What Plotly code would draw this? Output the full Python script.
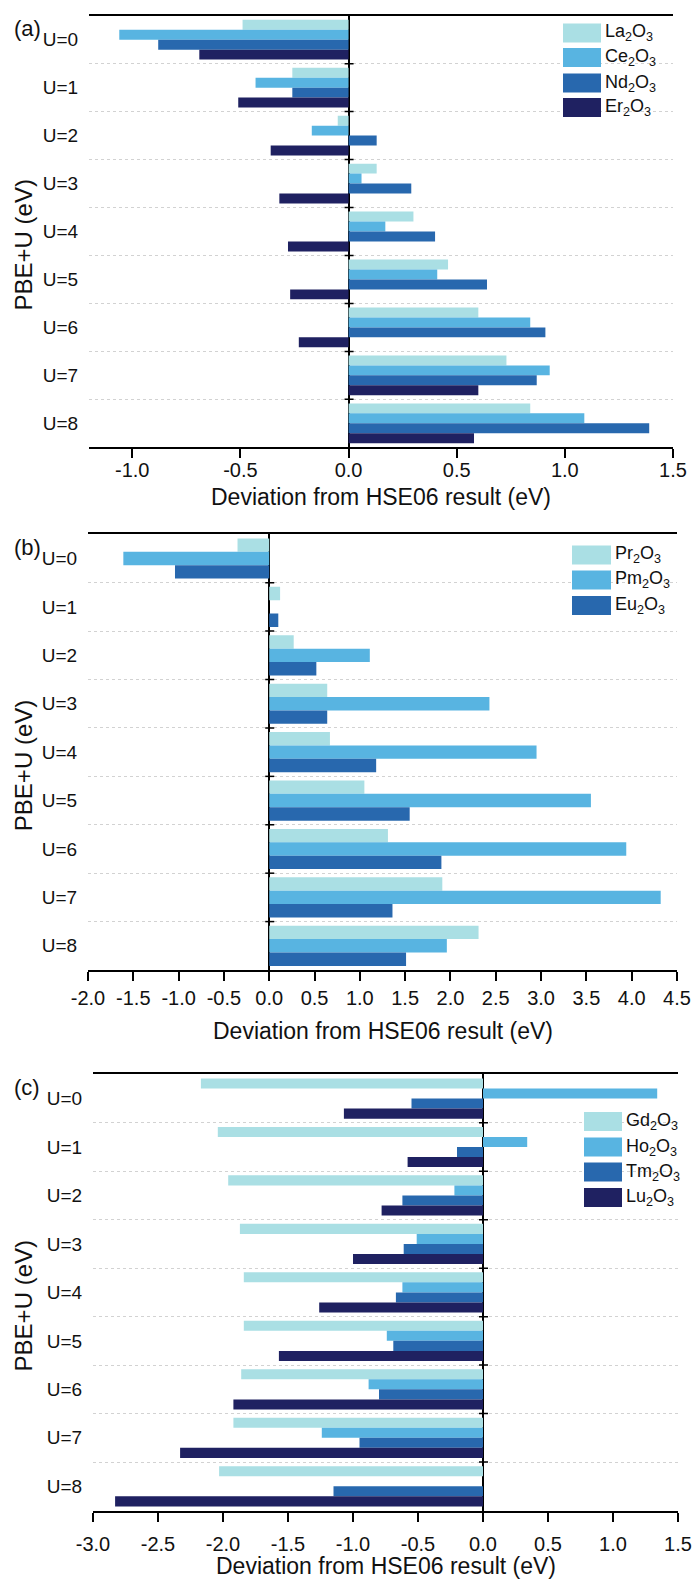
import plotly.graph_objects as go

# ---------------- data ----------------
U_LABELS = ["U=0", "U=1", "U=2", "U=3", "U=4", "U=5", "U=6", "U=7", "U=8"]
U_POS = list(range(len(U_LABELS)))

# panel (a)
A_NAMES = ["La<sub>2</sub>O<sub>3</sub>", "Ce<sub>2</sub>O<sub>3</sub>",
           "Nd<sub>2</sub>O<sub>3</sub>", "Er<sub>2</sub>O<sub>3</sub>"]
la2o3 = [-0.49, -0.26, -0.05, 0.13, 0.30, 0.46, 0.60, 0.73, 0.84]
ce2o3 = [-1.06, -0.43, -0.17, 0.06, 0.17, 0.41, 0.84, 0.93, 1.09]
nd2o3 = [-0.88, -0.26, 0.13, 0.29, 0.40, 0.64, 0.91, 0.87, 1.39]
er2o3 = [-0.69, -0.51, -0.36, -0.32, -0.28, -0.27, -0.23, 0.60, 0.58]
A_TICKS = [-1.0, -0.5, 0.0, 0.5, 1.0, 1.5]

# panel (b)
B_NAMES = ["Pr<sub>2</sub>O<sub>3</sub>", "Pm<sub>2</sub>O<sub>3</sub>",
           "Eu<sub>2</sub>O<sub>3</sub>"]
pr2o3 = [-0.35, 0.12, 0.27, 0.64, 0.67, 1.05, 1.31, 1.91, 2.31]
pm2o3 = [-1.61, None, 1.11, 2.43, 2.95, 3.55, 3.94, 4.32, 1.96]
eu2o3 = [-1.04, 0.10, 0.52, 0.64, 1.18, 1.55, 1.90, 1.36, 1.51]
B_TICKS = [-2.0, -1.5, -1.0, -0.5, 0.0, 0.5, 1.0, 1.5, 2.0, 2.5, 3.0, 3.5,
           4.0, 4.5]

# panel (c)
C_NAMES = ["Gd<sub>2</sub>O<sub>3</sub>", "Ho<sub>2</sub>O<sub>3</sub>",
           "Tm<sub>2</sub>O<sub>3</sub>", "Lu<sub>2</sub>O<sub>3</sub>"]
gd2o3 = [-2.17, -2.04, -1.96, -1.87, -1.84, -1.84, -1.86, -1.92, -2.03]
ho2o3 = [1.34, 0.34, -0.22, -0.51, -0.62, -0.74, -0.88, -1.24, None]
tm2o3 = [-0.55, -0.20, -0.62, -0.61, -0.67, -0.69, -0.80, -0.95, -1.15]
lu2o3 = [-1.07, -0.58, -0.78, -1.00, -1.26, -1.57, -1.92, -2.33, -2.83]
C_TICKS = [-3.0, -2.5, -2.0, -1.5, -1.0, -0.5, 0.0, 0.5, 1.0, 1.5]

X_TITLE = "Deviation from HSE06 result (eV)"
Y_TITLE = "PBE+U (eV)"

# ---------------- style ----------------
COLORS = ["#aadfe4", "#58b4e1", "#2868ae", "#1f2161"]
FONT = "Arial, 'Liberation Sans', sans-serif"
INK = "#111111"
W, H = 692, 1582


def px(x):
    return x / W


def py(y):
    return 1 - y / H


# panel boxes in pixels: (left, right, top, bottom), x range, tag
PANELS = [
    dict(tag="(a)", box=(89, 673, 15.7, 447.3), xr=[-1.2, 1.5], ticks=A_TICKS,
         series=[la2o3, ce2o3, nd2o3, er2o3], names=A_NAMES,
         legend=(563, 601, [33, 57.5, 83, 107.5]), xtitle_y=497, xstand=-5),
    dict(tag="(b)", box=(88, 677, 534.3, 970), xr=[-2.0, 4.5], ticks=B_TICKS,
         series=[pr2o3, pm2o3, eu2o3], names=B_NAMES,
         legend=(572, 611, [555, 580, 605.5]), xtitle_y=1031, xstand=0),
    dict(tag="(c)", box=(93, 678, 1074.3, 1510.5), xr=[-3.0, 1.5],
         ticks=C_TICKS, series=[gd2o3, ho2o3, tm2o3, lu2o3], names=C_NAMES,
         legend=(584, 622, [1121.5, 1147, 1172, 1197.5]), xtitle_y=1566,
         xstand=5),
]

fig = go.Figure()
shapes = []
annotations = []

for k, p in enumerate(PANELS, start=1):
    sfx = "" if k == 1 else str(k)
    xa, ya = "x" + sfx, "y" + sfx
    l, r, t, b = p["box"]

    for i, (vals, name) in enumerate(zip(p["series"], p["names"])):
        fig.add_trace(go.Bar(
            x=vals, y=U_POS, orientation="h", name=name,
            marker=dict(color=COLORS[i], line=dict(width=0)),
            xaxis=xa, yaxis=ya, showlegend=False, offsetgroup=str(i),
        ))

    fig.layout["xaxis" + sfx] = dict(
        domain=[px(l), px(r)], anchor=ya, range=p["xr"],
        tickmode="array", tickvals=p["ticks"],
        ticktext=[f"{v:.1f}" for v in p["ticks"]],
        showline=True, linecolor="black", linewidth=2, mirror=True,
        ticks="outside", ticklen=9, tickwidth=1.5, tickcolor="black",
        ticklabelstandoff=p["xstand"],
        showgrid=False, zeroline=True, zerolinecolor="black",
        zerolinewidth=1.5, automargin=False,
        tickfont=dict(family=FONT, size=20, color=INK),
    )
    # invisible outside ticks keep the category labels a fixed gap away
    fig.layout["yaxis" + sfx] = dict(
        domain=[py(b), py(t)], anchor=xa, range=[8.5, -0.5],
        tickmode="array", tickvals=U_POS, ticktext=U_LABELS,
        showline=False, ticks="outside", ticklen=6,
        tickcolor="rgba(0,0,0,0)", showgrid=False, zeroline=False,
        automargin=False,
        tickfont=dict(family=FONT, size=19, color=INK),
        minor=dict(tick0=0.5, dtick=1, showgrid=True, griddash="dot",
                   gridcolor="#d2d2d2", gridwidth=1, ticks=""),
    )

    # short tick marks on the zero line at the category boundaries
    for j in range(len(U_LABELS) - 1):
        yb = U_POS[j] + 0.5
        shapes.append(dict(
            type="line", xref=xa, yref=ya, xsizemode="pixel", xanchor=0,
            x0=-4, x1=5, y0=yb, y1=yb, layer="above",
            line=dict(color="black", width=1.5),
        ))

    # legend: swatches + labels
    lx0, lx1, rows = p["legend"]
    for i, (name, yc) in enumerate(zip(p["names"], rows)):
        shapes.append(dict(
            type="rect", xref="paper", yref="paper",
            x0=px(lx0), x1=px(lx1), y0=py(yc + 9.5), y1=py(yc - 9.5),
            fillcolor=COLORS[i], line=dict(width=0), layer="above",
        ))
        annotations.append(dict(
            xref="paper", yref="paper", x=px(lx1 + 2), y=py(yc),
            xanchor="left", yanchor="middle", text=name, showarrow=False,
            font=dict(family=FONT, size=18, color=INK),
        ))

    # panel tag
    annotations.append(dict(
        xref="paper", yref="paper", x=px(27), y=py(t + 13),
        xanchor="center", yanchor="middle", text=p["tag"], showarrow=False,
        font=dict(family=FONT, size=22, color=INK),
    ))
    # axis titles
    annotations.append(dict(
        xref="paper", yref="paper", x=px((l + r) / 2), y=py(p["xtitle_y"]),
        xanchor="center", yanchor="middle", text=X_TITLE, showarrow=False,
        font=dict(family=FONT, size=23, color=INK),
    ))
    annotations.append(dict(
        xref="paper", yref="paper", x=px(23), y=py((t + b) / 2 + 14),
        xanchor="center", yanchor="middle", text=Y_TITLE, showarrow=False,
        textangle=-90, font=dict(family=FONT, size=24, color=INK),
    ))

fig.update_layout(
    width=W, height=H, margin=dict(l=0, r=0, t=0, b=0),
    paper_bgcolor="white", plot_bgcolor="white",
    barmode="group", bargap=0.17, bargroupgap=0,
    showlegend=False, shapes=shapes, annotations=annotations,
    font=dict(family=FONT, color=INK),
)

fig.write_html("out.html")
